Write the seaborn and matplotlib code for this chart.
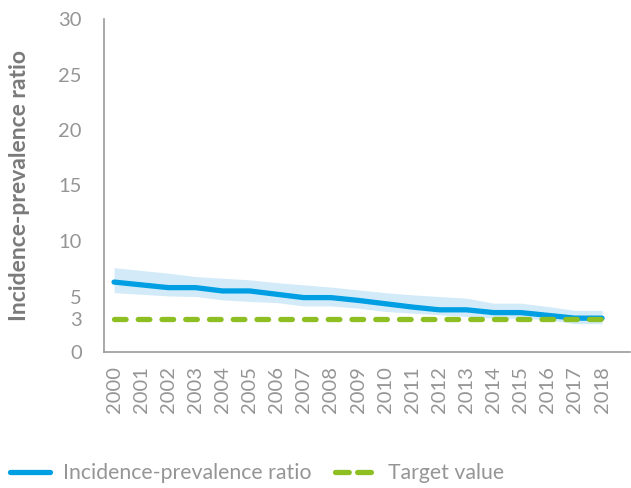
import matplotlib
matplotlib.use("Agg")
import matplotlib.pyplot as plt
import seaborn as sns
import pandas as pd
from matplotlib.lines import Line2D

years = list(range(2000, 2019))
ratio = [6.3, 6.05, 5.8, 5.8, 5.5, 5.5, 5.2, 4.9, 4.9, 4.65, 4.35, 4.05, 3.8, 3.8, 3.55, 3.55, 3.3, 3.05, 3.05]
upper = [7.6, 7.35, 7.1, 6.8, 6.65, 6.5, 6.25, 6.05, 5.85, 5.6, 5.35, 5.15, 5.0, 4.85, 4.4, 4.4, 4.1, 3.75, 3.75]
lower = [5.35, 5.2, 5.05, 5.0, 4.7, 4.55, 4.45, 4.15, 4.15, 3.95, 3.65, 3.5, 3.35, 3.2, 3.05, 3.05, 2.9, 2.55, 2.55]
target = [3] * len(years)
yticks = [0, 3, 5, 10, 15, 20, 25, 30]

BLUE = "#009FE3"
BAND = "#D3EBF9"
GREEN = "#8DBE22"
GREY = "#959595"

sns.set_style("white")
plt.rcParams["font.family"] = ["Lato", "DejaVu Sans"]

df = pd.DataFrame({"idx": range(len(years)), "ratio": ratio, "target": target,
                   "upper": upper, "lower": lower})

fig = plt.figure(figsize=(6.31, 4.88), dpi=100)
ax = fig.add_axes([104 / 631, 1 - 352 / 488, (630 - 104) / 631, (352 - 19) / 488])

ax.fill_between(df["idx"], df["lower"], df["upper"], color=BAND, linewidth=0)
sns.lineplot(data=df, x="idx", y="ratio", ax=ax, color=BLUE, linewidth=3.8,
             solid_capstyle="round")
sns.lineplot(data=df, x="idx", y="target", ax=ax, color=GREEN, linewidth=3.8,
             dashes=False)
tl = ax.lines[-1]
tl.set_dashes([2.2, 2.3])
tl.set_dash_capstyle("round")

ax.set_xlim(-0.37, 19.03)
ax.set_ylim(0, 30)
ax.set_yticks(yticks)
ax.set_yticklabels([str(t) for t in yticks])
ax.set_xticks(range(len(years)))
ax.set_xticklabels([str(y) for y in years], rotation=90)
ax.tick_params(axis="both", colors=GREY, labelsize=14.5, length=0)
for lab in ax.get_xticklabels() + ax.get_yticklabels():
    lab.set_color(GREY)
ax.tick_params(axis="x", pad=10)
ax.tick_params(axis="y", pad=16)

ax.set_xlabel("")
ax.set_ylabel("Incidence-prevalence ratio", fontsize=16.5, fontweight="bold",
              color="#7a7a7a", labelpad=20)
for s in ["top", "right"]:
    ax.spines[s].set_visible(False)
for s in ["left", "bottom"]:
    ax.spines[s].set_color("#999999")
    ax.spines[s].set_linewidth(1.2)

handles = [Line2D([0], [0], color=BLUE, linewidth=3.8, solid_capstyle="round"),
           Line2D([0], [0], color=GREEN, linewidth=3.8, dashes=[2.6, 1.6],
                  dash_capstyle="round")]
leg = fig.legend(handles, ["Incidence-prevalence ratio", "Target value"],
                 loc="center left", bbox_to_anchor=(0.016, 1 - 473 / 488), ncol=2,
                 frameon=False, fontsize=15.3, handlelength=1.9, columnspacing=1.1,
                 handletextpad=0.6, borderaxespad=0, borderpad=0)
for t in leg.get_texts():
    t.set_color(GREY)

fig.savefig("out.png", dpi=100)
